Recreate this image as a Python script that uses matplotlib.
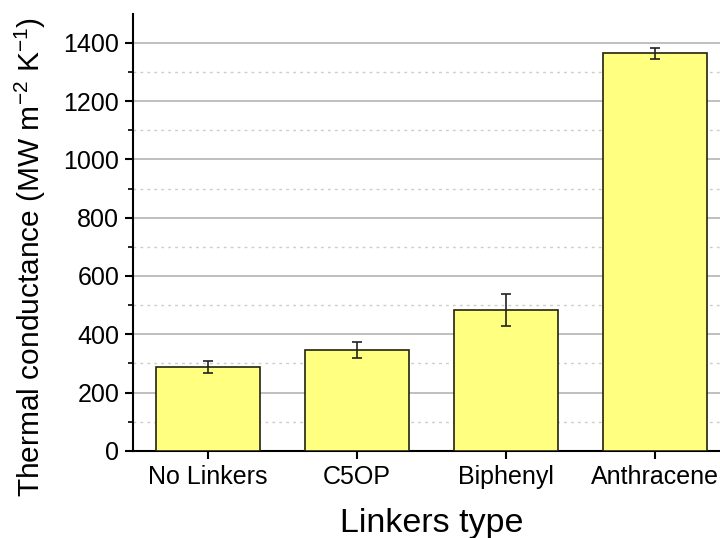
import numpy as np
import matplotlib
matplotlib.use("Agg")
import matplotlib.pyplot as plt
from matplotlib.ticker import MultipleLocator

plt.rcParams['font.family'] = ['Liberation Sans', 'DejaVu Sans']
plt.rcParams['mathtext.fontset'] = 'custom'
plt.rcParams['mathtext.rm'] = 'Liberation Sans'
plt.rcParams['mathtext.it'] = 'Liberation Sans:italic'

# dados
linkers = ['No Linkers', 'C5OP', 'Biphenyl', 'Anthracene']
conductance = [288, 347, 484, 1364]
erro = [20, 27, 55, 19]

fig = plt.figure(figsize=(7.2, 5.38), dpi=100)
ax = fig.add_axes([0.185, 0.162, 0.828, 0.812])

x = np.arange(len(linkers))
ax.bar(x, conductance, width=0.7, color='#ffff80', edgecolor='#222211', linewidth=1.2, zorder=3)
ax.errorbar(x, conductance, yerr=erro, fmt='none', ecolor='#222222', elinewidth=1.2,
            capsize=3.3, capthick=1.2, zorder=4)

ax.set_xlim(-0.5, 3.5)
ax.set_ylim(0, 1499)
ax.yaxis.set_major_locator(MultipleLocator(200))
ax.yaxis.set_minor_locator(MultipleLocator(100))
ax.set_xticks(x)
ax.set_xticklabels(linkers)

ax.grid(True, which='major', axis='y', color='#b4b4b4', linewidth=1.2, zorder=0)
ax.grid(True, which='minor', axis='y', color='#cccccc', linewidth=1.0, linestyle=(0, (2, 3)), zorder=0)
ax.set_axisbelow(True)

for s in ['top', 'right']:
    ax.spines[s].set_visible(False)
for s in ['left', 'bottom']:
    ax.spines[s].set_linewidth(1.5)

ax.tick_params(axis='both', which='major', direction='out', length=6, width=1.5, labelsize=18, pad=4)
ax.tick_params(axis='y', which='minor', direction='out', length=3.5, width=1.2)
ax.tick_params(axis='x', which='minor', bottom=False)

ax.set_xlabel('Linkers type', fontsize=24.5, labelpad=14)
ax.set_ylabel(r'Thermal conductance (MW m$^{\mathregular{-2}}$ K$^{\mathregular{-1}}$)', fontsize=21.5)
ax.yaxis.set_label_coords(-0.143, 0.444)

fig.savefig('out.png', dpi=100)
